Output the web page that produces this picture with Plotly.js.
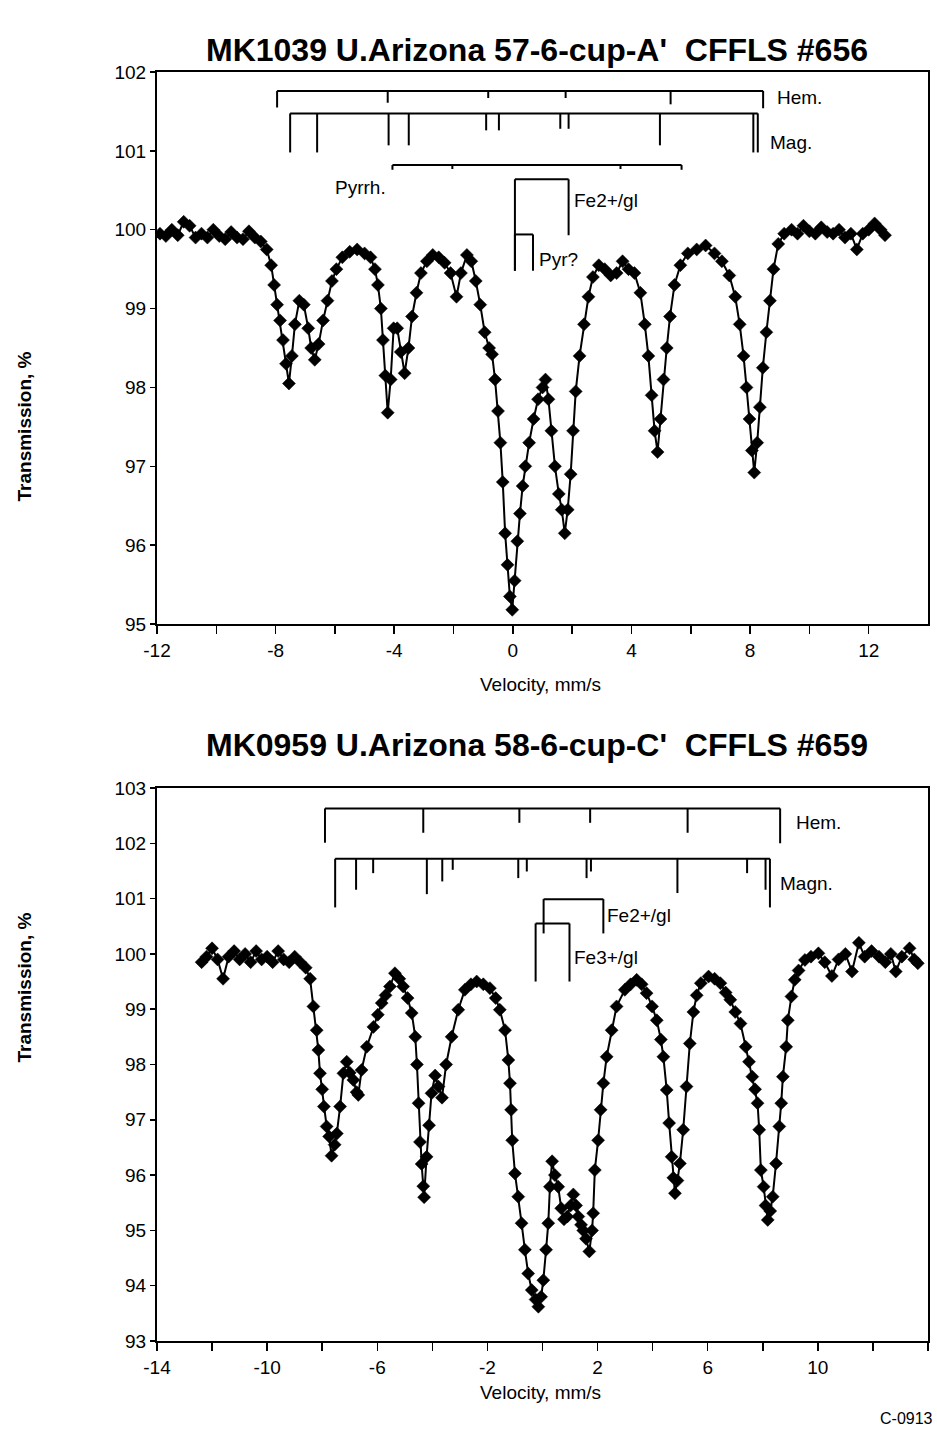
<!DOCTYPE html>
<html>
<head>
<meta charset="utf-8">
<script src="https://cdn.plot.ly/plotly-3.0.1.min.js"></script>
<style>html,body{margin:0;padding:0;background:#fff;}#chart{width:937px;height:1435px;}</style>
</head>
<body>
<div id="chart"></div>
<script>
// ---------- Top spectrum: MK1039 ----------
const topVelocity = [-11.9,-11.7,-11.5,-11.3,-11.1,-10.9,-10.7,-10.5,-10.3,-10.1,-9.9,-9.7,-9.5,-9.3,-9.1,-8.9,-8.7,-8.5,-8.3,-8.15,-8.05,-7.95,-7.85,-7.75,-7.65,-7.55,-7.45,-7.35,-7.2,-7.05,-6.9,-6.8,-6.68,-6.55,-6.4,-6.25,-6.1,-5.95,-5.75,-5.5,-5.25,-5.0,-4.8,-4.65,-4.55,-4.45,-4.38,-4.3,-4.22,-4.12,-4.02,-3.9,-3.78,-3.65,-3.52,-3.4,-3.25,-3.1,-2.9,-2.7,-2.5,-2.3,-2.1,-1.9,-1.75,-1.55,-1.4,-1.25,-1.1,-0.95,-0.8,-0.7,-0.6,-0.5,-0.42,-0.34,-0.26,-0.18,-0.1,-0.02,0.06,0.15,0.24,0.33,0.42,0.55,0.7,0.85,1.0,1.1,1.2,1.3,1.42,1.55,1.65,1.75,1.85,1.95,2.03,2.12,2.25,2.4,2.55,2.7,2.9,3.1,3.3,3.5,3.7,3.9,4.1,4.3,4.45,4.57,4.68,4.78,4.88,4.98,5.08,5.19,5.3,5.45,5.65,5.9,6.2,6.5,6.8,7.05,7.3,7.5,7.65,7.78,7.88,7.98,8.06,8.14,8.24,8.33,8.43,8.55,8.67,8.79,8.95,9.15,9.4,9.6,9.8,10.0,10.2,10.4,10.6,10.8,11.0,11.2,11.4,11.6,11.8,12.0,12.2,12.4,12.55];
const topTransmission = [99.95,99.92,100.0,99.93,100.1,100.05,99.9,99.95,99.9,100.0,99.92,99.88,99.97,99.9,99.88,99.98,99.9,99.85,99.75,99.55,99.3,99.05,98.85,98.6,98.3,98.05,98.4,98.8,99.1,99.05,98.75,98.5,98.35,98.55,98.85,99.1,99.35,99.5,99.65,99.72,99.75,99.7,99.65,99.5,99.3,99.0,98.6,98.15,97.68,98.1,98.75,98.75,98.45,98.18,98.5,98.9,99.2,99.45,99.6,99.68,99.65,99.58,99.45,99.15,99.45,99.68,99.6,99.35,99.05,98.7,98.5,98.42,98.1,97.7,97.3,96.8,96.15,95.75,95.35,95.18,95.55,96.05,96.4,96.75,97.0,97.3,97.6,97.85,98.0,98.1,97.85,97.45,97.0,96.65,96.45,96.15,96.45,96.9,97.45,97.95,98.4,98.8,99.15,99.4,99.55,99.5,99.42,99.45,99.6,99.5,99.45,99.2,98.8,98.4,97.9,97.45,97.18,97.6,98.1,98.5,98.9,99.3,99.55,99.7,99.75,99.8,99.7,99.6,99.42,99.15,98.8,98.4,98.0,97.6,97.2,96.92,97.3,97.75,98.25,98.7,99.1,99.5,99.82,99.95,100.0,99.95,100.05,99.98,99.95,100.03,99.97,99.95,100.0,99.9,99.95,99.75,99.95,100.0,100.08,100.0,99.93];

// ---------- Bottom spectrum: MK0959 ----------
const botVelocity = [-12.38,-12.2,-12.0,-11.8,-11.6,-11.4,-11.2,-11.0,-10.8,-10.6,-10.4,-10.2,-10.0,-9.8,-9.6,-9.4,-9.2,-9.0,-8.8,-8.6,-8.44,-8.32,-8.2,-8.14,-8.08,-8.0,-7.94,-7.84,-7.75,-7.66,-7.55,-7.47,-7.35,-7.23,-7.11,-7.0,-6.87,-6.75,-6.69,-6.57,-6.38,-6.14,-5.98,-5.84,-5.7,-5.54,-5.36,-5.2,-5.06,-4.9,-4.75,-4.62,-4.56,-4.5,-4.45,-4.39,-4.33,-4.3,-4.21,-4.12,-4.03,-3.9,-3.78,-3.65,-3.5,-3.3,-3.06,-2.82,-2.6,-2.39,-2.15,-1.91,-1.7,-1.55,-1.36,-1.24,-1.18,-1.14,-1.1,-1.0,-0.88,-0.76,-0.64,-0.52,-0.39,-0.25,-0.15,-0.05,0.03,0.13,0.21,0.27,0.35,0.45,0.57,0.68,0.78,0.9,1.02,1.12,1.22,1.3,1.4,1.48,1.58,1.7,1.8,1.84,1.9,2.02,2.11,2.21,2.33,2.51,2.69,2.99,3.2,3.42,3.6,3.78,3.98,4.15,4.3,4.39,4.51,4.6,4.69,4.75,4.81,4.9,4.99,5.11,5.23,5.35,5.48,5.6,5.75,6.03,6.25,6.46,6.65,6.82,7.0,7.19,7.38,7.5,7.62,7.72,7.81,7.87,7.93,8.03,8.1,8.18,8.27,8.36,8.48,8.6,8.67,8.73,8.85,8.91,9.04,9.16,9.3,9.53,9.75,10.02,10.25,10.51,10.75,11.0,11.24,11.49,11.7,11.95,12.22,12.45,12.65,12.83,13.05,13.33,13.5,13.63];
const botTransmission = [99.85,99.95,100.1,99.9,99.55,99.95,100.05,99.9,100.0,99.85,100.05,99.9,99.95,99.85,100.05,99.9,99.85,99.95,99.85,99.75,99.55,99.05,98.62,98.26,97.84,97.55,97.24,96.88,96.7,96.35,96.55,96.75,97.24,97.84,98.05,97.85,97.72,97.5,97.45,97.9,98.32,98.68,98.9,99.11,99.25,99.41,99.65,99.55,99.41,99.2,98.93,98.5,98.0,97.3,96.6,96.2,95.8,95.6,96.33,96.9,97.48,97.8,97.6,97.4,98.0,98.5,98.99,99.35,99.45,99.5,99.45,99.38,99.2,98.99,98.62,98.08,97.66,97.18,96.63,96.03,95.61,95.13,94.65,94.22,93.92,93.75,93.62,93.8,94.1,94.65,95.13,95.79,96.25,96.0,95.79,95.4,95.2,95.25,95.45,95.65,95.45,95.25,95.1,95.0,94.85,94.62,95.0,95.31,96.09,96.63,97.18,97.66,98.14,98.62,99.05,99.35,99.45,99.53,99.45,99.29,99.05,98.8,98.45,98.14,97.54,96.94,96.33,95.95,95.67,95.9,96.21,96.82,97.6,98.38,98.95,99.25,99.47,99.59,99.55,99.47,99.3,99.17,98.95,98.74,98.32,98.05,97.78,97.55,97.3,96.82,96.09,95.79,95.45,95.19,95.35,95.61,96.21,96.88,97.3,97.78,98.32,98.8,99.23,99.53,99.7,99.89,99.95,100.01,99.85,99.6,99.9,100.0,99.68,100.2,99.95,100.05,99.95,99.85,100.0,99.68,99.95,100.1,99.9,99.83];

// ---------- Stick diagrams (line positions, mm/s) ----------
const topHemPos = [-7.95,-4.22,-0.83,1.78,5.32,8.44];
const topHemTip = [101.55,101.61,101.67,101.67,101.59,101.54];
const topHemBase = 101.76;
const topMagPos = [-7.51,-6.6,-4.19,-3.51,-0.9,-0.47,1.6,1.88,4.96,8.11,8.26];
const topMagTip = [100.98,100.98,101.07,101.07,101.26,101.26,101.28,101.28,101.07,100.98,100.98];
const topMagBase = 101.475;
const topPyrrhPos = [-4.06,-2.04,3.63,5.69];
const topPyrrhTip = [100.76,100.77,100.77,100.76];
const topPyrrhBase = 100.82;
const topFe2Pos = [0.07,1.88];
const topFe2Tip = [99.48,99.93];
const topFe2Base = 100.64;
const topPyrPos = [0.07,0.68];
const topPyrTip = [99.48,99.48];
const topPyrBase = 99.94;

const botHemPos = [-7.90,-4.33,-0.84,1.73,5.27,8.63];
const botHemTip = [102.01,102.19,102.37,102.37,102.19,102.0];
const botHemBase = 102.63;
const botMagPos = [-7.53,-6.77,-6.15,-4.20,-3.64,-3.26,-0.88,-0.57,1.60,1.76,4.90,7.43,8.10,8.26];
const botMagTip = [100.84,101.16,101.46,101.08,101.31,101.52,101.37,101.49,101.37,101.49,101.10,101.46,101.16,100.84];
const botMagBase = 101.72;
const botFe2Pos = [0.04,2.21];
const botFe2Tip = [100.37,100.37];
const botFe2Base = 100.99;
const botFe3Pos = [-0.25,0.98];
const botFe3Tip = [99.50,99.50];
const botFe3Base = 100.55;

// ---------- Tick labels ----------
const topXTickVals = [-12,-8,-4,0,4,8,12];
const topXTickText = ['-12','-8','-4','0','4','8','12'];
const topXMinor = [-10,-6,-2,2,6,10];
const botXTickVals = [-14,-10,-6,-2,2,6,10,14];
const botXTickText = ['-14','-10','-6','-2','2','6','10','14'];
const botXMinor = [-12,-8,-4,0,4,8,12];

const titles = ["MK1039 U.Arizona 57-6-cup-A'\u00a0\u00a0CFFLS #656", "MK0959 U.Arizona 58-6-cup-C'\u00a0\u00a0CFFLS #659"];

function stickTrace(pos, tip, base, xa, ya) {
  const xs = [pos[0], pos[pos.length-1], null];
  const ys = [base, base, null];
  for (let i = 0; i < pos.length; i++) {
    xs.push(pos[i], pos[i], null);
    ys.push(base, tip[i], null);
  }
  return {x: xs, y: ys, xaxis: xa, yaxis: ya, mode: 'lines', type: 'scatter',
          line: {color: '#000', width: 2}, hoverinfo: 'skip', showlegend: false};
}

const FONT = 'Liberation Sans, Arial, sans-serif';
const specStyle = {mode: 'lines+markers', type: 'scatter', showlegend: false,
  line: {color: '#000', width: 2},
  marker: {symbol: 'diamond', size: 10, color: '#000', line: {color: '#000', width: 0.5}}};

const data = [
  Object.assign({x: topVelocity, y: topTransmission, xaxis: 'x', yaxis: 'y'}, specStyle),
  Object.assign({x: botVelocity, y: botTransmission, xaxis: 'x2', yaxis: 'y2'}, specStyle),
  stickTrace(topHemPos, topHemTip, topHemBase, 'x', 'y'),
  stickTrace(topMagPos, topMagTip, topMagBase, 'x', 'y'),
  stickTrace(topPyrrhPos, topPyrrhTip, topPyrrhBase, 'x', 'y'),
  stickTrace(topFe2Pos, topFe2Tip, topFe2Base, 'x', 'y'),
  stickTrace(topPyrPos, topPyrTip, topPyrBase, 'x', 'y'),
  stickTrace(botHemPos, botHemTip, botHemBase, 'x2', 'y2'),
  stickTrace(botMagPos, botMagTip, botMagBase, 'x2', 'y2'),
  stickTrace(botFe2Pos, botFe2Tip, botFe2Base, 'x2', 'y2'),
  stickTrace(botFe3Pos, botFe3Tip, botFe3Base, 'x2', 'y2')
];

const axCommon = {showline: true, linecolor: '#000', linewidth: 2, mirror: true,
  ticks: 'outside', tickcolor: '#000', tickwidth: 1.5, showgrid: false, zeroline: false,
  tickfont: {family: FONT, size: 19, color: '#000'}};

const layout = {
  width: 937, height: 1435,
  margin: {l: 157, r: 9, t: 72, b: 94},
  paper_bgcolor: '#fff', plot_bgcolor: '#fff',
  font: {family: FONT, color: '#000'},
  showlegend: false,
  xaxis: Object.assign({}, axCommon, {anchor: 'y', domain: [0,1], range: [-12,14],
    tickmode: 'array', tickvals: topXTickVals, ticktext: topXTickText, ticklen: 8,
    minor: {tickmode: 'array', tickvals: topXMinor, ticks: 'outside', ticklen: 8, tickwidth: 1.5, tickcolor: '#000'}}),
  yaxis: Object.assign({}, axCommon, {anchor: 'x', domain: [0.565,1], range: [95,102], dtick: 1, ticklen: 5}),
  xaxis2: Object.assign({}, axCommon, {anchor: 'y2', domain: [0,1], range: [-14,14],
    tickmode: 'array', tickvals: botXTickVals, ticktext: botXTickText, ticklen: 8,
    minor: {tickmode: 'array', tickvals: botXMinor, ticks: 'outside', ticklen: 8, tickwidth: 1.5, tickcolor: '#000'}}),
  yaxis2: Object.assign({}, axCommon, {anchor: 'x2', domain: [0,0.4358], range: [93,103], dtick: 1, ticklen: 5}),
  annotations: [
    {text: '<b>' + titles[0] + '</b>', xref: 'paper', yref: 'paper', x: 0.493, y: 1.0331, showarrow: false, font: {family: FONT, size: 32}},
    {text: '<b>' + titles[1] + '</b>', xref: 'paper', yref: 'paper', x: 0.493, y: 0.4697, showarrow: false, font: {family: FONT, size: 32}},
    {text: 'Velocity, mm/s', xref: 'paper', yref: 'paper', x: 0.497, y: 0.517, showarrow: false, font: {family: FONT, size: 19}},
    {text: 'Velocity, mm/s', xref: 'paper', yref: 'paper', x: 0.497, y: -0.0504, showarrow: false, font: {family: FONT, size: 19}},
    {text: '<b>Transmission, %</b>', xref: 'paper', yref: 'paper', x: -0.188, y: 0.781, textangle: -90, showarrow: false, font: {family: FONT, size: 19}},
    {text: '<b>Transmission, %</b>', xref: 'paper', yref: 'paper', x: -0.188, y: 0.2175, textangle: -90, showarrow: false, font: {family: FONT, size: 19}},
    {text: 'C-0913', xref: 'paper', yref: 'paper', x: 0.935, y: -0.069, xanchor: 'left', showarrow: false, font: {family: FONT, size: 16}},
    // stick labels top
    {text: 'Hem.', xref: 'x', yref: 'y', x: 8.85, y: 101.68, xanchor: 'left', showarrow: false, font: {family: FONT, size: 19}},
    {text: 'Mag.', xref: 'x', yref: 'y', x: 8.6, y: 101.1, xanchor: 'left', showarrow: false, font: {family: FONT, size: 19}},
    {text: 'Pyrrh.', xref: 'x', yref: 'y', x: -5.15, y: 100.54, showarrow: false, font: {family: FONT, size: 19}},
    {text: 'Fe2+/gl', xref: 'x', yref: 'y', x: 1.98, y: 100.37, xanchor: 'left', showarrow: false, font: {family: FONT, size: 19}},
    {text: 'Pyr?', xref: 'x', yref: 'y', x: 0.8, y: 99.62, xanchor: 'left', showarrow: false, font: {family: FONT, size: 19}},
    // stick labels bottom
    {text: 'Hem.', xref: 'x2', yref: 'y2', x: 9.15, y: 102.37, xanchor: 'left', showarrow: false, font: {family: FONT, size: 19}},
    {text: 'Magn.', xref: 'x2', yref: 'y2', x: 8.55, y: 101.28, xanchor: 'left', showarrow: false, font: {family: FONT, size: 19}},
    {text: 'Fe2+/gl', xref: 'x2', yref: 'y2', x: 2.28, y: 100.70, xanchor: 'left', showarrow: false, font: {family: FONT, size: 19}},
    {text: 'Fe3+/gl', xref: 'x2', yref: 'y2', x: 1.08, y: 99.93, xanchor: 'left', showarrow: false, font: {family: FONT, size: 19}}
  ]
};

Plotly.newPlot('chart', data, layout, {staticPlot: true, displayModeBar: false});
</script>
</body>
</html>
